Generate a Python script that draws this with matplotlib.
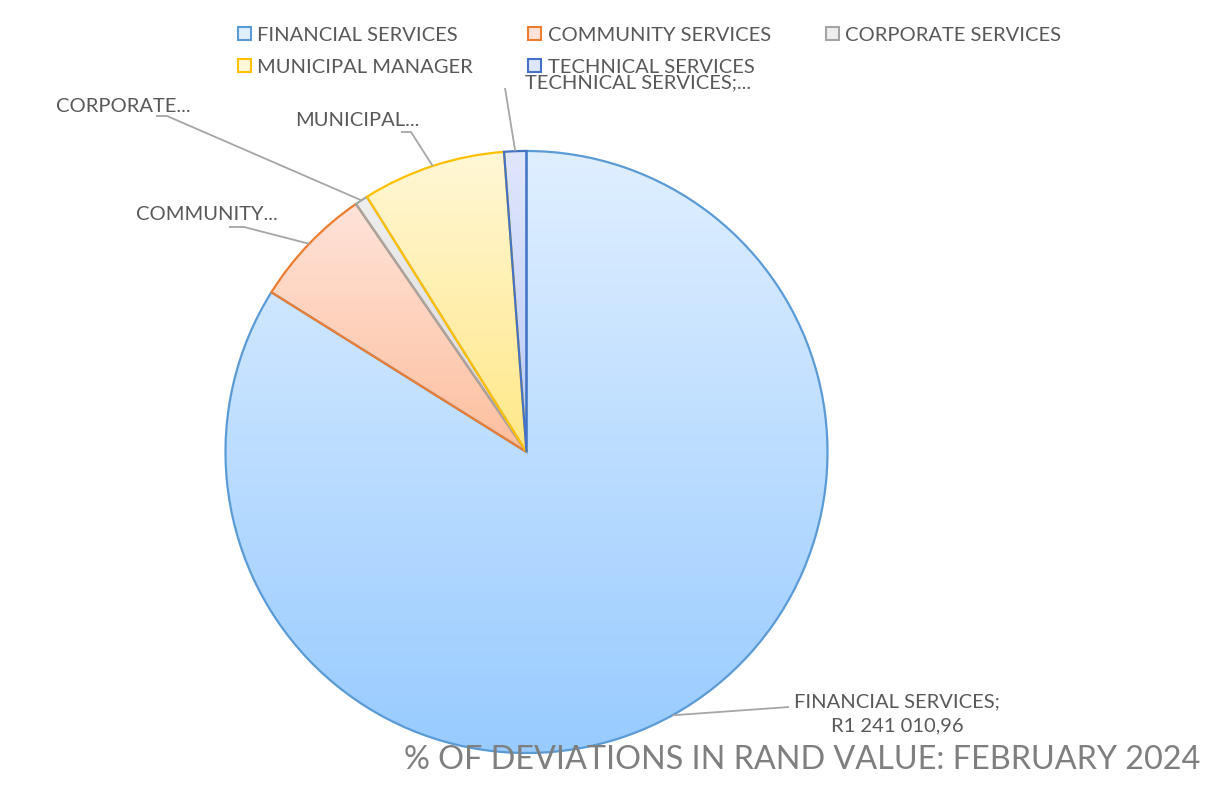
import numpy as np
import matplotlib
matplotlib.use("Agg")
import matplotlib.pyplot as plt
from matplotlib.colors import LinearSegmentedColormap
from matplotlib.patches import Patch

plt.rcParams["font.family"] = ["Lato", "DejaVu Sans"]

categories = ["FINANCIAL SERVICES", "COMMUNITY SERVICES", "CORPORATE SERVICES",
              "MUNICIPAL MANAGER", "TECHNICAL SERVICES"]
values = [1241010.96, 96300, 10200, 114000, 17600]
short_labels = ["FINANCIAL SERVICES;\nR1 241 010,96", "COMMUNITY...", "CORPORATE...",
                "MUNICIPAL...", "TECHNICAL SERVICES;..."]
edge_colors = ["#5b9bd5", "#ed7d31", "#a5a5a5", "#ffc000", "#4472c4"]
grad_top = ["#e0efff", "#ffe3d9", "#eeeeee", "#fff7d6", "#e0e6fc"]
grad_bottom = ["#98cbff", "#fdbf9e", "#d9d9d9", "#ffe888", "#b9c9f6"]
title = "% OF DEVIATIONS IN RAND VALUE: FEBRUARY 2024"

W, H = 1211, 787
CX, CY, R = 526.5, 452, 301   # pie centre / radius in pixels (from top)


def px(x, y):
    # pixel position (from top-left) -> data coords
    return (x - CX) / R, (CY - y) / R


fig = plt.figure(figsize=(W / 100, H / 100), dpi=100)
ax = fig.add_axes([0, 0, 1, 1])
x0, y1 = px(0, 0)
x1, y0 = px(W, H)

wedges, _ = ax.pie(values, startangle=90, counterclock=False, radius=1,
                   wedgeprops=dict(linewidth=1.6))
for w, ec, top, bot in zip(wedges, edge_colors, grad_top, grad_bottom):
    w.set_facecolor("none")
    w.set_edgecolor(ec)
    w.set_zorder(3)
    ext = w.get_path().get_extents()
    cmap = LinearSegmentedColormap.from_list("g", [top, bot])
    im = ax.imshow(np.linspace(0, 1, 256).reshape(-1, 1), cmap=cmap, aspect="auto",
                   extent=[ext.x0, ext.x1, ext.y0, ext.y1], origin="upper", zorder=2)
    im.set_clip_path(w)

ax.set_xlim(x0, x1)
ax.set_ylim(y0, y1)
ax.set_aspect("equal")
ax.axis("off")

# data labels with leader lines (label layout in pixels)
label_pos = [(897, 714, "center"), (136, 214, "left"), (56, 106, "left"),
             (295, 120, "left"), (525, 83, "left")]
leader_pts = [[(789, 707)], [(229, 227), (244, 227)], [(156, 116), (167, 116)],
              [(401, 132), (411, 132)], [(505, 88)]]
lc = "#a6a6a6"
for w, lab, (tx, ty, ha), pts in zip(wedges, short_labels, label_pos, leader_pts):
    mid = np.deg2rad((w.theta1 + w.theta2) / 2)
    anchor = (np.cos(mid), np.sin(mid))
    path = [px(*p) for p in pts] + [anchor]
    xs, ys = zip(*path)
    ax.plot(xs, ys, color=lc, lw=1.3, zorder=4, solid_capstyle="butt")
    ax.text(*px(tx, ty), lab, ha=ha, va="center", fontsize=14.5, color="#595959",
            linespacing=1.45, zorder=5)

# legend, ordered so rows read left to right
order = [0, 3, 1, 4, 2]
handles = [Patch(facecolor=grad_top[i], edgecolor=edge_colors[i], lw=1.5,
                 label=categories[i]) for i in order]
fig.legend(handles=handles, ncol=3, loc="upper left", bbox_to_anchor=(220 / W, 1 - 8.5 / H),
           frameon=False, fontsize=14.5, labelcolor="#595959", handlelength=0.65,
           handleheight=0.65, handletextpad=0.3, columnspacing=2.75, labelspacing=0.75)

fig.text(1200 / W, 1 - 760 / H, title, ha="right", va="center", fontsize=23.3,
         color="#7f7f7f")

fig.savefig("out.png", dpi=100)
plt.close(fig)
